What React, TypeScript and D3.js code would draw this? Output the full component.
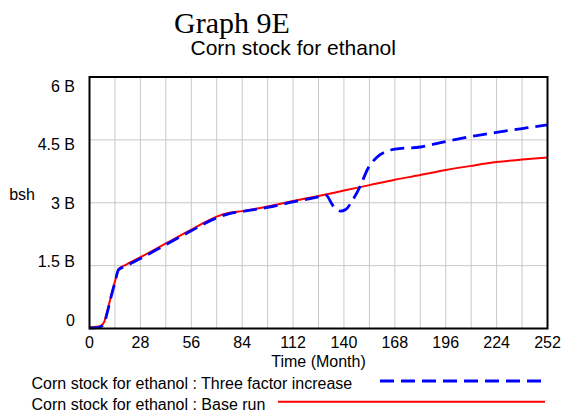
import React from "react";
import * as d3 from "d3";

const months = [0, 4, 6, 8, 10, 12, 14, 16, 20, 28, 42, 56, 70, 77, 84, 98, 112, 126, 140, 154, 168, 182, 196, 210, 224, 238, 252];
const baseRun = [0.03, 0.04, 0.06, 0.15, 0.45, 0.8, 1.12, 1.42, 1.52, 1.7, 2.03, 2.36, 2.67, 2.76, 2.8, 2.91, 3.04, 3.16, 3.29, 3.42, 3.55, 3.66, 3.78, 3.88, 3.97, 4.03, 4.08];

const monthsThree = [0, 4, 6, 8, 10, 12, 14, 16, 20, 28, 42, 56, 70, 77, 84, 98, 112, 126, 130, 134, 138, 141, 145, 149, 153, 158, 163, 168, 182, 196, 210, 224, 238, 252];
const threeFactor = [0.01, 0.02, 0.04, 0.12, 0.42, 0.78, 1.1, 1.4, 1.49, 1.67, 2.0, 2.33, 2.64, 2.74, 2.79, 2.89, 3.02, 3.14, 3.18, 2.93, 2.8, 2.84, 3.08, 3.4, 3.8, 4.08, 4.22, 4.28, 4.33, 4.46, 4.58, 4.68, 4.77, 4.86];

const xTicks = [0, 28, 56, 84, 112, 140, 168, 196, 224, 252];
const yTicks = [0, 1.5, 3, 4.5, 6];
const yTickLabels = ["0", "1.5 B", "3 B", "4.5 B", "6 B"];

const W = 563;
const H = 414;
const L = 89.5, R = 547.5, T = 77, B = 328.5;

export default function App() {
  const x = d3.scaleLinear().domain([0, 252]).range([L, R]);
  const y = d3.scaleLinear().domain([0, 6]).range([B, T]);
  const yLabel = d3.scaleLinear().domain([0, 6]).range([326, 91.7]);
  const gridX = d3.range(0, 253, 14);
  const line = d3
    .line<[number, number]>()
    .x((d) => x(d[0]))
    .y((d) => y(d[1]))
    .curve(d3.curveMonotoneX);
  const basePath = line(months.map((m, i) => [m, baseRun[i]]) as [number, number][]) || "";
  const threePath = line(monthsThree.map((m, i) => [m, threeFactor[i]]) as [number, number][]) || "";
  const sans = "'Liberation Sans', Arial, sans-serif";
  return (
    <svg width={W} height={H} style={{ position: "absolute", left: 0, top: 0, background: "#fff" }}>
      <rect x={0} y={0} width={W} height={H} fill="#fff" />
      <text x={174} y={32.7} fontFamily="'Liberation Serif', 'Times New Roman', serif" fontSize={30} fill="#000">
        Graph 9E
      </text>
      <text x={190.5} y={55} fontFamily={sans} fontSize={21} fill="#000">
        Corn stock for ethanol
      </text>
      {gridX.map((g) => (
        <line key={"gx" + g} x1={x(g)} x2={x(g)} y1={T} y2={B} stroke="#c8c8c8" strokeWidth={1} />
      ))}
      {yTicks.map((v) => (
        <line key={"gy" + v} x1={L} x2={R} y1={y(v)} y2={y(v)} stroke="#c8c8c8" strokeWidth={1} />
      ))}
      <path d={basePath} fill="none" stroke="#ff0000" strokeWidth={2} />
      <path d={threePath} fill="none" stroke="#0000ff" strokeWidth={2.8} strokeDasharray="14,7" />
      <rect x={L} y={T} width={R - L} height={B - T} fill="none" stroke="#000" strokeWidth={2} />
      {yTicks.map((v, i) => (
        <text key={"yl" + v} x={75} y={yLabel(v)} textAnchor="end" fontFamily={sans} fontSize={16} fill="#000">
          {yTickLabels[i]}
        </text>
      ))}
      <text x={35} y={200} textAnchor="end" fontFamily={sans} fontSize={16} fill="#000">
        bsh
      </text>
      {xTicks.map((t) => (
        <text key={"xl" + t} x={x(t)} y={348.3} textAnchor="middle" fontFamily={sans} fontSize={16} fill="#000">
          {t}
        </text>
      ))}
      <text x={(L + R) / 2} y={366.5} textAnchor="middle" fontFamily={sans} fontSize={16} fill="#000">
        Time (Month)
      </text>
      <text x={31.5} y={389.3} fontFamily={sans} fontSize={16} fill="#000">
        Corn stock for ethanol : Three factor increase
      </text>
      <line x1={380} x2={547} y1={381} y2={381} stroke="#0000ff" strokeWidth={2.8} strokeDasharray="14,7" />
      <text x={31.5} y={410} fontFamily={sans} fontSize={16} fill="#000">
        Corn stock for ethanol : Base run
      </text>
      <line x1={278} x2={545} y1={401.7} y2={401.7} stroke="#ff0000" strokeWidth={2} />
    </svg>
  );
}
